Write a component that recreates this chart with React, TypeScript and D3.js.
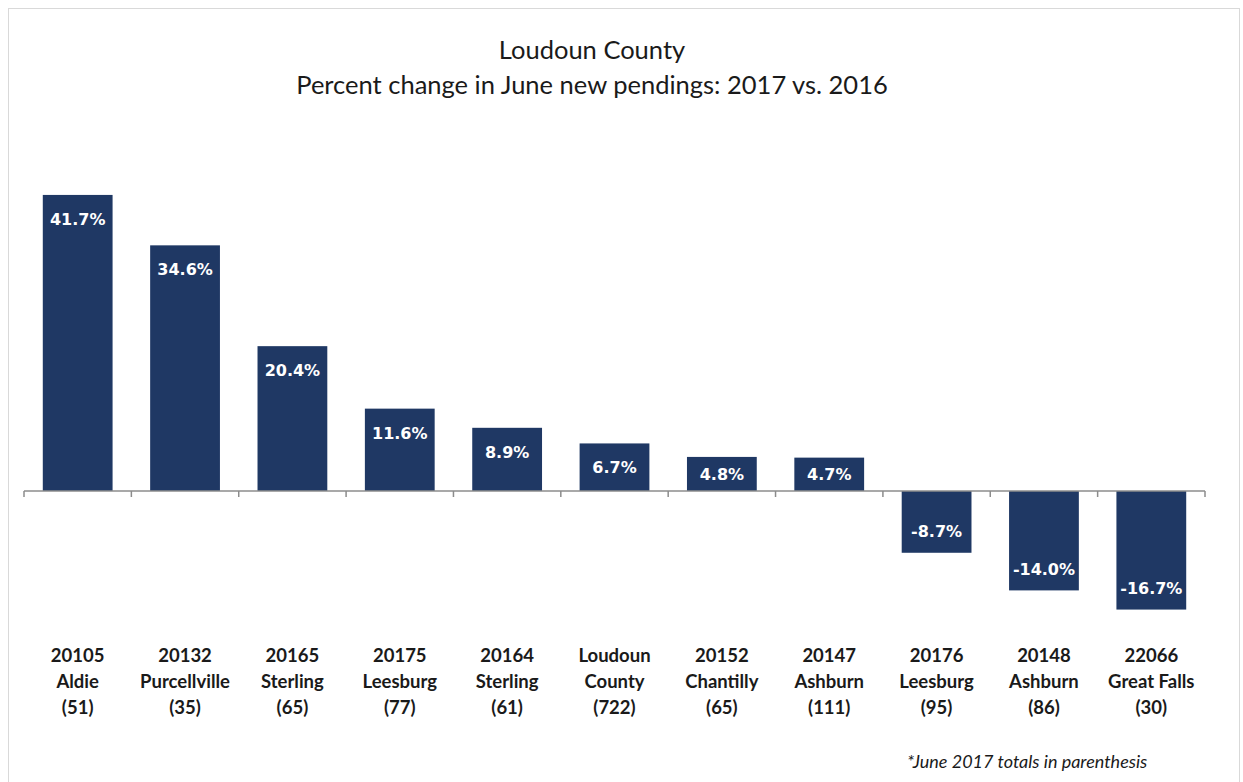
import React from "react";
import * as d3 from "d3";

const zips = ["20105", "20132", "20165", "20175", "20164", "Loudoun", "20152", "20147", "20176", "20148", "22066"];
const places = ["Aldie", "Purcellville", "Sterling", "Leesburg", "Sterling", "County", "Chantilly", "Ashburn", "Leesburg", "Ashburn", "Great Falls"];
const totals = ["(51)", "(35)", "(65)", "(77)", "(61)", "(722)", "(65)", "(111)", "(95)", "(86)", "(30)"];
const values = [41.7, 34.6, 20.4, 11.6, 8.9, 6.7, 4.8, 4.7, -8.7, -14.0, -16.7];

const titleLines = ["Loudoun County", "Percent change in June new pendings: 2017 vs. 2016"];
const footnote = "*June 2017 totals in parenthesis";

const W = 1243;
const H = 782;
const BAR = "#1f3864";
const AXIS = "#8c8c8c";
const FONT = "Lato, 'Open Sans', sans-serif";

export default function App() {
  const ids = values.map((_, i) => String(i));
  const x = d3.scaleBand<string>().domain(ids).range([24, 1205]).paddingInner(0.35).paddingOuter(0.175);
  const y = d3.scaleLinear().domain([-20, 45]).range([633, 171.5]);
  const y0 = y(0);
  const step = x.step();
  const x0 = 24;

  return (
    <svg width={W} height={H} style={{ position: "absolute", left: 0, top: 0, background: "#fff" }}>
      <rect x={8.5} y={8.5} width={1231} height={800} fill="#fff" stroke="#d9d9d9" strokeWidth={1} />
      {titleLines.map((t, i) => (
        <text key={t} x={592} y={59 + i * 35} textAnchor="middle" fontFamily={FONT} fontSize={25.5} fill="#1a1a1a">
          {t}
        </text>
      ))}
      {values.map((v, i) => {
        const top = v >= 0 ? y(v) : y0;
        const h = Math.abs(y(v) - y0);
        const xc = (x(String(i)) as number) + x.bandwidth() / 2;
        let ly: number;
        if (v >= 0) ly = Math.min(y(v) + 24, (y(v) + y0) / 2);
        else ly = y(v) - 21.5;
        return (
          <g key={i}>
            <rect x={x(String(i))} y={top} width={x.bandwidth()} height={h} fill={BAR} />
            <text x={xc} y={ly + 6} textAnchor="middle" fontFamily="'DejaVu Sans', Verdana, sans-serif" fontWeight="bold" fontSize={16} fill="#fff">
              {v.toFixed(1) + "%"}
            </text>
          </g>
        );
      })}
      <line x1={x0} x2={1205} y1={y0} y2={y0} stroke={AXIS} strokeWidth={1.5} />
      {d3.range(12).map((k) => (
        <line key={k} x1={x0 + k * step} x2={x0 + k * step} y1={y0} y2={y0 + 6} stroke={AXIS} strokeWidth={1.5} />
      ))}
      {ids.map((id, i) => {
        const xc = (x(id) as number) + x.bandwidth() / 2;
        return (
          <text key={id} x={xc} textAnchor="middle" fontFamily={FONT} fontWeight="bold" fontSize={18.5} fill="#1a1a1a">
            <tspan x={xc} y={662}>{zips[i]}</tspan>
            <tspan x={xc} y={688}>{places[i]}</tspan>
            <tspan x={xc} y={714}>{totals[i]}</tspan>
          </text>
        );
      })}
      <text x={907} y={768} fontFamily={FONT} fontStyle="italic" fontSize={18} fill="#1a1a1a">
        {footnote}
      </text>
    </svg>
  );
}
